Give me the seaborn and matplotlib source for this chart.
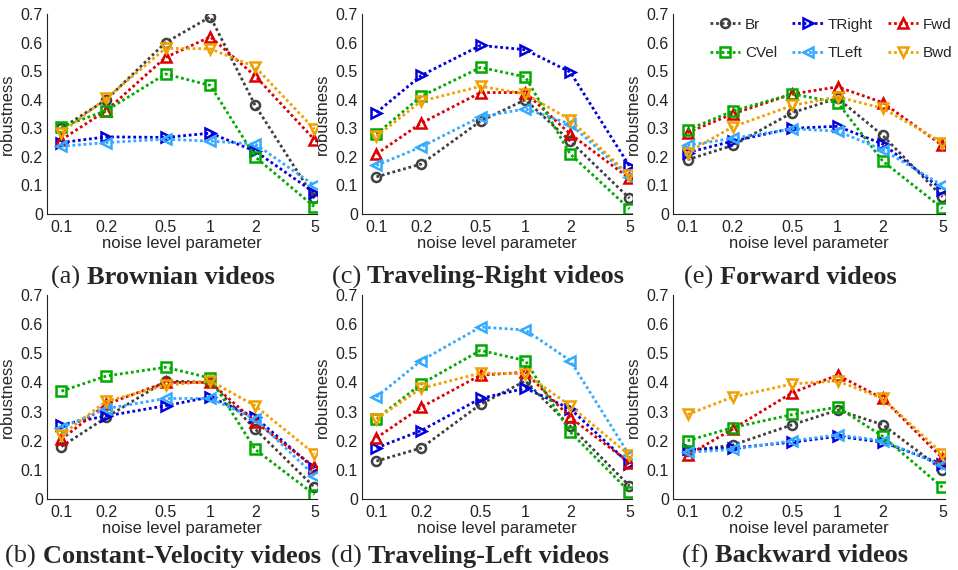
import numpy as np
import pandas as pd
import matplotlib
matplotlib.use("Agg")
import matplotlib.pyplot as plt
import matplotlib.ticker as mticker
import seaborn as sns

# ─── DATA ─────────────────────────────────────────────────────────────────────
noise = [0.1, 0.2, 0.5, 1, 2, 5]
noise_labels = ["0.1", "0.2", "0.5", "1", "2", "5"]
methods = ["Br", "TRight", "Fwd", "CVel", "TLeft", "Bwd"]

brownian = {
    "Br":     [0.300, 0.400, 0.600, 0.690, 0.380, 0.055],
    "TRight": [0.250, 0.270, 0.268, 0.283, 0.220, 0.075],
    "Fwd":    [0.260, 0.362, 0.548, 0.620, 0.483, 0.260],
    "CVel":   [0.305, 0.362, 0.490, 0.450, 0.200, 0.025],
    "TLeft":  [0.237, 0.250, 0.262, 0.255, 0.245, 0.100],
    "Bwd":    [0.285, 0.405, 0.580, 0.578, 0.515, 0.297],
}
const_vel = {
    "Br":     [0.180, 0.280, 0.405, 0.400, 0.240, 0.040],
    "TRight": [0.255, 0.285, 0.320, 0.350, 0.280, 0.105],
    "Fwd":    [0.205, 0.325, 0.400, 0.400, 0.265, 0.110],
    "CVel":   [0.370, 0.422, 0.452, 0.415, 0.170, 0.015],
    "TLeft":  [0.245, 0.310, 0.345, 0.345, 0.275, 0.080],
    "Bwd":    [0.220, 0.335, 0.390, 0.405, 0.320, 0.155],
}
trav_right = {
    "Br":     [0.130, 0.175, 0.325, 0.400, 0.255, 0.055],
    "TRight": [0.355, 0.485, 0.590, 0.575, 0.497, 0.168],
    "Fwd":    [0.210, 0.318, 0.425, 0.425, 0.280, 0.125],
    "CVel":   [0.280, 0.412, 0.513, 0.480, 0.210, 0.018],
    "TLeft":  [0.170, 0.235, 0.340, 0.368, 0.315, 0.130],
    "Bwd":    [0.272, 0.395, 0.447, 0.420, 0.330, 0.135],
}
trav_left = {
    "Br":     [0.130, 0.175, 0.325, 0.405, 0.250, 0.045],
    "TRight": [0.175, 0.235, 0.345, 0.380, 0.310, 0.120],
    "Fwd":    [0.210, 0.315, 0.425, 0.435, 0.280, 0.125],
    "CVel":   [0.275, 0.395, 0.510, 0.475, 0.230, 0.025],
    "TLeft":  [0.350, 0.475, 0.590, 0.580, 0.475, 0.150],
    "Bwd":    [0.275, 0.380, 0.432, 0.430, 0.320, 0.150],
}
forward = {
    "Br":     [0.190, 0.240, 0.355, 0.405, 0.275, 0.060],
    "TRight": [0.215, 0.255, 0.300, 0.307, 0.245, 0.085],
    "Fwd":    [0.285, 0.350, 0.420, 0.445, 0.390, 0.240],
    "CVel":   [0.295, 0.360, 0.420, 0.390, 0.185, 0.020],
    "TLeft":  [0.240, 0.265, 0.298, 0.290, 0.225, 0.100],
    "Bwd":    [0.215, 0.305, 0.380, 0.410, 0.370, 0.250],
}
backward = {
    "Br":     [0.165, 0.185, 0.255, 0.305, 0.255, 0.100],
    "TRight": [0.170, 0.175, 0.195, 0.215, 0.195, 0.120],
    "Fwd":    [0.150, 0.240, 0.365, 0.425, 0.345, 0.140],
    "CVel":   [0.200, 0.245, 0.290, 0.315, 0.215, 0.040],
    "TLeft":  [0.160, 0.170, 0.200, 0.220, 0.200, 0.115],
    "Bwd":    [0.290, 0.350, 0.395, 0.405, 0.345, 0.155],
}

panels = [
    ("(a) ", "Brownian videos", brownian),
    ("(c) ", "Traveling-Right videos", trav_right),
    ("(e) ", "Forward videos", forward),
    ("(b) ", "Constant-Velocity videos", const_vel),
    ("(d) ", "Traveling-Left videos", trav_left),
    ("(f) ", "Backward videos", backward),
]

# ─── STYLE ────────────────────────────────────────────────────────────────────
sns.set_style("white")
plt.rcParams.update({
    "font.family": ["Liberation Sans", "DejaVu Sans"],
    "xtick.direction": "in", "ytick.direction": "in",
    "axes.spines.top": False, "axes.spines.right": False,
})

COLORS = {"Br": "#404040", "TRight": "#0000DD", "Fwd": "#DD0000",
          "CVel": "#00AA00", "TLeft": "#33AAFF", "Bwd": "#F0A000"}
MARKERS = {"Br": "o", "TRight": ">", "Fwd": "^", "CVel": "s", "TLeft": "<", "Bwd": "v"}
DASHES = {m: (1, 1) for m in methods}

W, H = 958, 570
fig = plt.figure(figsize=(W / 100, H / 100), dpi=100)

# axes boxes in pixels: left, top, right, bottom
col_x = [(47, 317), (362, 632), (673, 945)]
row_y = [(14, 214), (295, 499)]
cap_centers = [(163, 277), (478, 277), (790, 277), (163, 556), (470, 556), (795, 556)]

axes = []
for i, (pre, name, data) in enumerate(panels):
    r, c = divmod(i, 3)
    x0, x1 = col_x[c]
    y0, y1 = row_y[r]
    ax = fig.add_axes([x0 / W, 1 - y1 / H, (x1 - x0) / W, (y1 - y0) / H])
    df = pd.DataFrame([{"noise": n, "rob": v, "method": m}
                       for m in methods for n, v in zip(noise, data[m])])
    sns.lineplot(data=df, x="noise", y="rob", hue="method", style="method",
                 hue_order=methods, style_order=methods, palette=COLORS,
                 markers=MARKERS, dashes=DASHES, lw=2.0, ms=6.5, ax=ax,
                 legend=False, estimator=None, sort=False)
    for ln in ax.get_lines():
        ln.set_markeredgecolor(ln.get_color())
        ln.set_markerfacecolor("none")
        ln.set_markeredgewidth(1.8)
    ax.set_xscale("log")
    ax.set_xlim(0.08, 5.2)
    ax.set_ylim(0, 0.7)
    ax.set_xticks(noise)
    ax.set_xticklabels(noise_labels)
    ax.xaxis.set_minor_locator(mticker.LogLocator(base=10, subs=np.arange(2, 10)))
    ax.xaxis.set_minor_formatter(mticker.NullFormatter())
    ax.set_yticks(np.arange(0, 0.71, 0.1))
    ax.yaxis.set_major_formatter(mticker.FuncFormatter(lambda v, _: "0" if v == 0 else f"{v:.1f}"))
    ax.tick_params(which="major", length=4, width=0.8, labelsize=11.5, colors="#222", pad=4)
    ax.tick_params(which="minor", length=2.5, width=0.6, colors="#222")
    ax.tick_params(axis="y", pad=3)
    for s in ("left", "bottom"):
        ax.spines[s].set_color("#222")
        ax.spines[s].set_linewidth(0.8)
    ax.set_xlabel("noise level parameter", fontsize=12, labelpad=1)
    ax.set_ylabel("robustness", fontsize=12, labelpad=4)
    axes.append(ax)

# legend in panel (e), 3 columns filled row-wise
ax_e = axes[2]
lines = ax_e.get_lines()
order = [0, 3, 1, 4, 2, 5]
ax_e.legend([lines[k] for k in order], [methods[k] for k in order], ncol=3,
            loc="upper left", bbox_to_anchor=(0.085, 1.05), frameon=False,
            fontsize=11, handlelength=2.0, columnspacing=1.0, labelspacing=0.95,
            handletextpad=0.3)

# captions: normal prefix + bold title, centred
fig.canvas.draw()
rend = fig.canvas.get_renderer()
cap_kw = dict(family=["Liberation Serif", "DejaVu Serif"], fontsize=19, va="center")
for (pre, name, _), (cx, cy) in zip(panels, cap_centers):
    t1 = fig.text(0, 1 - cy / H, pre, fontweight="normal", **cap_kw)
    t2 = fig.text(0, 1 - cy / H, name, fontweight="bold", **cap_kw)
    w1 = t1.get_window_extent(rend).width
    w2 = t2.get_window_extent(rend).width
    left = cx - (w1 + w2) / 2
    t1.set_x(left / W)
    t2.set_x((left + w1) / W)

fig.savefig("out.png", dpi=100)
